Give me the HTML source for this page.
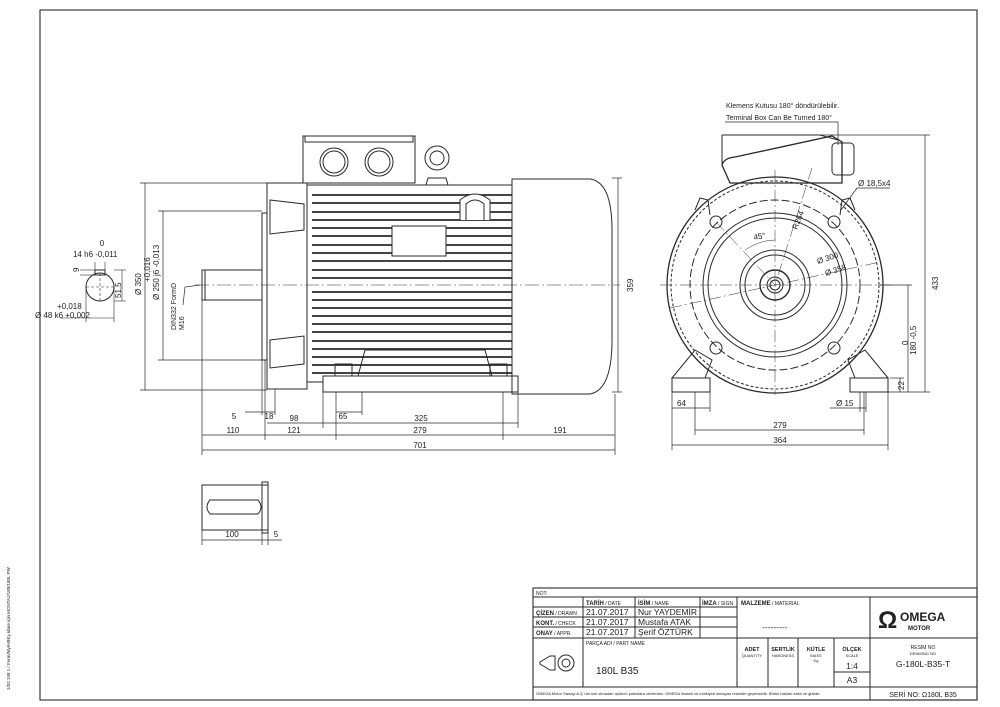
<!DOCTYPE html>
<html><head><meta charset="utf-8"><style>
html,body{margin:0;padding:0;background:#fff}
svg{display:block}
text{font-family:"Liberation Sans",sans-serif;fill:#222}
</style></head><body>
<svg width="1000" height="707" viewBox="0 0 1000 707" xmlns="http://www.w3.org/2000/svg">
<g fill="none" stroke="#2a2a2a" stroke-width="1">
<!-- border -->
<rect x="40" y="10" width="937" height="690" stroke-width="1.1"/>

<!-- ===== LEFT VIEW ===== -->
<rect x="202" y="270" width="60" height="30"/>
<line x1="205" y1="270" x2="205" y2="300"/>
<rect x="262" y="213" width="5" height="147"/>
<rect x="267" y="183" width="40" height="206"/>
<path d="M270 200 L304 204 L304 230 L270 234 Z M270 340 L304 336 L304 364 L270 368 Z"/>
<rect x="307" y="185" width="205" height="197"/>
<g stroke-width="1.7">
<line x1="312" y1="195" x2="512" y2="195"/><line x1="312" y1="203" x2="512" y2="203"/>
<line x1="312" y1="212" x2="512" y2="212"/><line x1="312" y1="220" x2="512" y2="220"/>
<line x1="312" y1="228" x2="512" y2="228"/><line x1="312" y1="236" x2="512" y2="236"/>
<line x1="312" y1="245" x2="512" y2="245"/><line x1="312" y1="253" x2="512" y2="253"/>
<line x1="312" y1="261" x2="512" y2="261"/><line x1="312" y1="270" x2="512" y2="270"/>
<line x1="312" y1="278" x2="512" y2="278"/><line x1="312" y1="292" x2="512" y2="292"/>
<line x1="312" y1="300" x2="512" y2="300"/><line x1="312" y1="308" x2="512" y2="308"/>
<line x1="312" y1="316" x2="512" y2="316"/><line x1="312" y1="324" x2="512" y2="324"/>
<line x1="312" y1="332" x2="512" y2="332"/><line x1="312" y1="341" x2="512" y2="341"/>
<line x1="312" y1="349" x2="512" y2="349"/><line x1="312" y1="357" x2="512" y2="357"/>
<line x1="312" y1="365" x2="512" y2="365"/><line x1="312" y1="373" x2="512" y2="373"/>
</g>
<rect x="392" y="226" width="54" height="30" fill="#fff"/>
<path d="M460 220 L460 200 Q475 188 490 200 L490 220 M466 220 L466 204 Q475 196 484 204 L484 220" fill="#fff"/>
<rect x="303" y="136" width="112" height="47" fill="#fff"/>
<rect x="305" y="136" width="108" height="6"/>
<circle cx="334" cy="162" r="14"/><circle cx="334" cy="162" r="11"/>
<circle cx="379" cy="162" r="14"/><circle cx="379" cy="162" r="11"/>
<circle cx="437" cy="158" r="12"/><circle cx="437" cy="158" r="7"/>
<path d="M428 178 L446 178 L448 185 L426 185 Z"/>
<path d="M323 376 L323 392 L518 392 L518 376 Z" fill="#fff"/>
<path d="M335 376 L335 364 L352 364 L352 376 M490 376 L490 364 L507 364 L507 376 M358 376 L365 350 L485 350 L492 376"/>
<path d="M512 179 L590 179 Q612 182 612 230 L612 340 Q612 390 590 394 L512 394 Z"/>
<line x1="195" y1="285" x2="620" y2="285" stroke-dasharray="14 3 2 3" stroke-width="0.6"/>
<g stroke-width="0.7">
<line x1="202" y1="300" x2="202" y2="455"/><line x1="615" y1="394" x2="615" y2="455"/>
<line x1="202" y1="450" x2="615" y2="450"/>
<line x1="202" y1="435" x2="615" y2="435"/>
<line x1="265" y1="360" x2="265" y2="440"/><line x1="336" y1="392" x2="336" y2="440"/><line x1="503" y1="392" x2="503" y2="440"/>
<line x1="267" y1="423" x2="518" y2="423"/><line x1="323" y1="392" x2="323" y2="428"/><line x1="518" y1="392" x2="518" y2="428"/>
<line x1="336" y1="412" x2="362" y2="412"/><line x1="362" y1="392" x2="362" y2="415"/>
<line x1="245" y1="412" x2="275" y2="412"/><line x1="262" y1="360" x2="262" y2="415"/><line x1="275" y1="389" x2="275" y2="415"/>
<line x1="140" y1="183" x2="267" y2="183"/><line x1="140" y1="390" x2="267" y2="390"/><line x1="145" y1="183" x2="145" y2="390"/>
<line x1="158" y1="211" x2="262" y2="211"/><line x1="158" y1="360" x2="262" y2="360"/><line x1="163" y1="211" x2="163" y2="360"/>
<line x1="612" y1="178" x2="622" y2="178"/><line x1="612" y1="392" x2="622" y2="392"/><line x1="618" y1="178" x2="618" y2="392"/>
<polyline points="183,305 185,287 200,285"/>
</g>
<circle cx="100" cy="287" r="14"/>
<rect x="95" y="270" width="10" height="5"/>
<g stroke-width="0.6">
<line x1="86" y1="287" x2="114" y2="287" stroke-dasharray="3 2"/><line x1="100" y1="273" x2="100" y2="301" stroke-dasharray="3 2"/>
<line x1="86" y1="287" x2="86" y2="322"/><line x1="114" y1="287" x2="114" y2="322"/><line x1="60" y1="318" x2="114" y2="318"/>
<line x1="114" y1="270" x2="126" y2="270"/><line x1="114" y1="301" x2="126" y2="301"/><line x1="122" y1="270" x2="122" y2="301"/>
<line x1="95" y1="262" x2="95" y2="270"/><line x1="105" y1="262" x2="105" y2="270"/>
<line x1="80" y1="270" x2="95" y2="270"/><line x1="80" y1="275" x2="95" y2="275"/>
</g>
<rect x="202" y="485" width="66" height="45"/>
<rect x="262" y="482" width="6" height="51"/>
<path d="M210 500 L258 500 Q264 507 258 514 L210 514 Q204 507 210 500 Z"/>
<g stroke-width="0.7"><line x1="202" y1="530" x2="202" y2="545"/><line x1="262" y1="533" x2="262" y2="545"/><line x1="268" y1="533" x2="268" y2="545"/><line x1="202" y1="540" x2="282" y2="540"/></g>

<!-- ===== RIGHT VIEW ===== -->
<path d="M730 183 L722 165 Q724 158 735 157 L832 136 L842 142 L842 183 Z" fill="#fff" stroke-width="1.3"/>
<path d="M722 135 L820 135 L838 140 M722 135 L722 165"/>
<rect x="832" y="143" width="22" height="32" rx="4"/>
<circle cx="775" cy="285" r="108" stroke-width="1.3"/>
<circle cx="775" cy="285" r="104" stroke-dasharray="3 2"/>
<circle cx="775" cy="285" r="85" stroke-dasharray="8 3"/>
<circle cx="775" cy="285" r="72"/>
<circle cx="775" cy="285" r="67"/>
<circle cx="775" cy="285" r="35"/>
<circle cx="775" cy="285" r="30"/>
<circle cx="775" cy="285" r="15" stroke-width="1.4"/>
<circle cx="775" cy="285" r="8"/>
<circle cx="775" cy="285" r="5"/>
<circle cx="716" cy="222" r="6"/><circle cx="834" cy="222" r="6"/><circle cx="716" cy="348" r="6"/><circle cx="834" cy="348" r="6"/>
<path d="M695 210 L700 198 L708 200 L710 215 M855 210 L850 198 L842 200 L840 215"/>
<path d="M672 378 L695 350 L712 360 L705 378 Z M888 378 L865 350 L848 360 L855 378 Z"/>
<rect x="672" y="378" width="38" height="14"/><rect x="850" y="378" width="38" height="14"/>
<g stroke-width="0.5" stroke-dasharray="12 3 2 3">
<line x1="660" y1="285" x2="895" y2="285"/><line x1="775" y1="170" x2="775" y2="395"/>
<line x1="716" y1="222" x2="775" y2="285"/><line x1="812" y1="168" x2="775" y2="285"/>
<line x1="670" y1="308" x2="880" y2="262"/>
</g>
<path d="M745 250 Q760 240 775 240" stroke-width="0.5"/>
<g stroke-width="0.7">
<line x1="820" y1="135" x2="930" y2="135"/><line x1="925" y1="135" x2="925" y2="392"/><line x1="888" y1="392" x2="930" y2="392"/>
<line x1="880" y1="285" x2="912" y2="285"/><line x1="908" y1="285" x2="908" y2="392"/>
<line x1="890" y1="378" x2="904" y2="378"/><line x1="900" y1="378" x2="900" y2="392"/>
<line x1="672" y1="392" x2="672" y2="450"/><line x1="888" y1="392" x2="888" y2="450"/><line x1="672" y1="445" x2="888" y2="445"/>
<line x1="695" y1="392" x2="695" y2="435"/><line x1="864" y1="392" x2="864" y2="435"/><line x1="695" y1="430" x2="864" y2="430"/>
<line x1="710" y1="392" x2="710" y2="412"/><line x1="672" y1="408" x2="710" y2="408"/>
<line x1="860" y1="392" x2="860" y2="412"/><line x1="866" y1="392" x2="866" y2="412"/><line x1="830" y1="408" x2="866" y2="408"/>
<polyline points="841,210 857,188 890,188"/>
<polyline points="725,122 838,122 838,145"/>
</g>

<!-- ===== TITLE BLOCK ===== -->
<rect x="533" y="588" width="444" height="112" stroke-width="1.1"/>
<line x1="533" y1="597" x2="977" y2="597"/>
<line x1="533" y1="638" x2="870" y2="638"/>
<line x1="533" y1="687" x2="977" y2="687"/>
<line x1="533" y1="607" x2="737" y2="607"/><line x1="533" y1="617" x2="737" y2="617"/><line x1="533" y1="627" x2="737" y2="627"/>
<line x1="583" y1="597" x2="583" y2="687"/><line x1="635" y1="597" x2="635" y2="638"/><line x1="700" y1="597" x2="700" y2="638"/>
<line x1="737" y1="597" x2="737" y2="687"/><line x1="870" y1="597" x2="870" y2="700"/>
<line x1="768" y1="638" x2="768" y2="687"/><line x1="798" y1="638" x2="798" y2="687"/><line x1="834" y1="638" x2="834" y2="687"/>
<line x1="834" y1="672" x2="870" y2="672"/><line x1="870" y1="638" x2="977" y2="638"/>
<path d="M540 662 L550 656 L555 656 L555 670 L550 670 L540 664 Z"/>
<circle cx="566" cy="663" r="8"/><circle cx="566" cy="663" r="4"/>
</g>

<g font-size="8">
<text x="234" y="419" text-anchor="middle">5</text><text x="269" y="419" text-anchor="middle">18</text>
<text x="343" y="419" text-anchor="middle">65</text>
<text x="294" y="421" text-anchor="middle">98</text><text x="421" y="421" text-anchor="middle">325</text>
<text x="233" y="433" text-anchor="middle">110</text><text x="294" y="433" text-anchor="middle">121</text>
<text x="420" y="433" text-anchor="middle">279</text><text x="560" y="433" text-anchor="middle">191</text>
<text x="420" y="448" text-anchor="middle">701</text>
<text x="232" y="537" text-anchor="middle">100</text><text x="276" y="537" text-anchor="middle">5</text>
<text transform="translate(141,295) rotate(-90)">Ø 350</text>
<text transform="translate(159,300) rotate(-90)">Ø 250 j6 -0,013</text>
<text transform="translate(150,282) rotate(-90)">+0,016</text>
<text transform="translate(176,330) rotate(-90)" font-size="7">DIN332 FormD</text>
<text transform="translate(184,330) rotate(-90)" font-size="7">M16</text>
<text transform="translate(633,292) rotate(-90)">359</text>
<text x="102" y="246" text-anchor="middle">0</text>
<text x="73" y="257">14 h6 -0,011</text>
<text transform="translate(79,272) rotate(-90)">9</text>
<text transform="translate(121,298) rotate(-90)">51,5</text>
<text x="57" y="309">+0,018</text><text x="35" y="318">Ø 48 k6 +0,002</text>
<text x="726" y="108" font-size="7">Klemens Kutusu 180° döndürülebilir.</text>
<text x="726" y="120" font-size="7">Terminal Box Can Be Turned 180°</text>
<text x="858" y="186">Ø 18,5x4</text>
<text x="754" y="240" transform="rotate(-10 754 240)">45°</text>
<text transform="translate(797,230) rotate(-68)">R264</text>
<text x="818" y="264" transform="rotate(-18 818 264)">Ø 300</text>
<text x="826" y="276" transform="rotate(-18 826 276)">Ø 358</text>
<text transform="translate(938,290) rotate(-90)">433</text>
<text transform="translate(908,345) rotate(-90)">0</text>
<text transform="translate(916,355) rotate(-90)">180 -0,5</text>
<text transform="translate(904,390) rotate(-90)">22</text>
<text x="677" y="406">64</text><text x="836" y="406">Ø 15</text>
<text x="780" y="428" text-anchor="middle">279</text><text x="780" y="443" text-anchor="middle">364</text>
</g>
<text transform="translate(10,690) rotate(-90)" font-size="4.5">1/02 198 1 / Form/MyrHBEy idare için MONTAJ/180/180L PW</text>

<g font-size="5">
<text x="536" y="595">NOT:</text>
<text x="586" y="605"><tspan font-weight="bold" font-size="6">TARİH</tspan> / DATE</text>
<text x="638" y="605"><tspan font-weight="bold" font-size="6">İSİM</tspan> / NAME</text>
<text x="702" y="605"><tspan font-weight="bold" font-size="6">İMZA</tspan> / SIGN.</text>
<text x="741" y="605"><tspan font-weight="bold" font-size="6">MALZEME</tspan> / MATERIAL</text>
<text x="536" y="615"><tspan font-weight="bold" font-size="6">ÇİZEN</tspan> / DRAWN</text>
<text x="536" y="625"><tspan font-weight="bold" font-size="6">KONT.</tspan> / CHECK</text>
<text x="536" y="635"><tspan font-weight="bold" font-size="6">ONAY</tspan> / APPR.</text>
<text x="586" y="645">PARÇA ADI / PART NAME</text>
<text x="752" y="651" text-anchor="middle"><tspan font-weight="bold" font-size="5.5">ADET</tspan></text><text x="752" y="657" text-anchor="middle" font-size="4">QUANTITY</text>
<text x="783" y="651" text-anchor="middle"><tspan font-weight="bold" font-size="5.5">SERTLİK</tspan></text><text x="783" y="657" text-anchor="middle" font-size="4">HARDNESS</text>
<text x="816" y="651" text-anchor="middle"><tspan font-weight="bold" font-size="5.5">KÜTLE</tspan></text><text x="816" y="657" text-anchor="middle" font-size="4">MASS</text><text x="816" y="662" text-anchor="middle" font-size="4">Kg</text>
<text x="852" y="651" text-anchor="middle"><tspan font-weight="bold" font-size="5.5">ÖLÇEK</tspan></text><text x="852" y="657" text-anchor="middle" font-size="4">SCALE</text>
<text x="923" y="649" text-anchor="middle">RESİM NO</text><text x="923" y="655" text-anchor="middle" font-size="4">DRAWING NO</text>
<text x="536" y="695" font-size="4">OMEGA Motor Sanayi A.Ş.'nin izni olmadan üçüncü şahıslara verilemez. OMEGA imalatı ve mülkiyeti olmayan resimler geçersizdir. Bütün hakları saklı ve gizlidir.</text>
</g>
<g font-size="8.5">
<text x="586" y="615">21.07.2017</text><text x="638" y="615">Nur YAYDEMİR</text>
<text x="586" y="625">21.07.2017</text><text x="638" y="625">Mustafa ATAK</text>
<text x="586" y="635">21.07.2017</text><text x="638" y="635">Şerif ÖZTÜRK</text>
<text x="596" y="674" font-size="10">180L B35</text>
<text x="762" y="630">---------</text>
<text x="852" y="669" text-anchor="middle">1:4</text>
<text x="852" y="683" text-anchor="middle">A3</text>
<text x="923" y="667" text-anchor="middle">G-180L-B35-T</text>
<text x="923" y="697" text-anchor="middle" font-size="7" fill="#555">SERİ NO: Ω180L B35</text>
</g>
<text x="878" y="628" font-size="24" font-weight="bold">Ω</text>
<text x="900" y="621" font-size="12" font-weight="bold">OMEGA</text>
<text x="908" y="630" font-size="6" font-weight="bold">MOTOR</text>
</svg>
</body></html>
